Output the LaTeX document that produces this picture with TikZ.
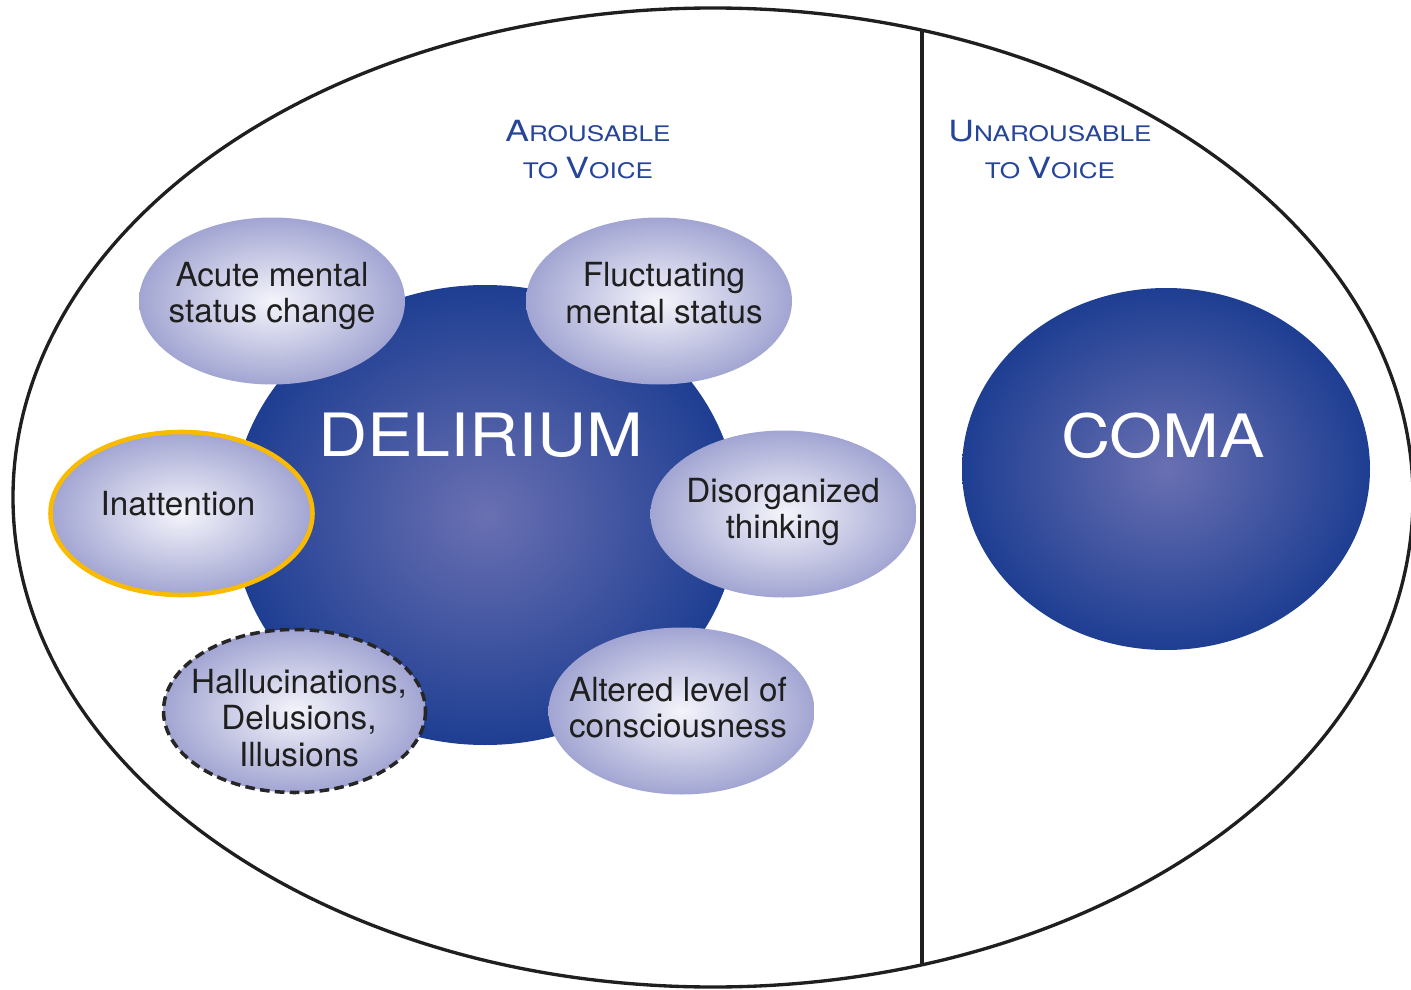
\documentclass[tikz,border=0pt]{standalone}
\usepackage{fontspec}
\setmainfont{TeX Gyre Heros}

\definecolor{deepblue}{RGB}{30,62,146}
\definecolor{midblue}{RGB}{106,112,178}
\definecolor{lilac}{RGB}{162,165,210}
\definecolor{lilaccore}{RGB}{244,244,251}
\definecolor{headblue}{RGB}{38,68,152}
\definecolor{ringgold}{RGB}{250,186,0}

\newcommand{\fakesc}[2]{{\fontsize{16.6}{21}\selectfont #1}{\fontsize{12.2}{21}\selectfont #2}}
\newcommand{\wideline}[2]{\scalebox{#1}[1]{#2}}

\tikzset{
  core/.style={shading=radial, inner color=midblue, outer color=deepblue},
  bubble/.style={shading=radial, inner color=lilaccore, outer color=lilac},
  bubbletext/.style={align=center, text=black!88, font=\fontsize{18.9}{20.8}\selectfont},
  heading/.style={align=center, text=headblue, inner sep=0pt, font=\fontsize{16.6}{21}\selectfont},
  bigword/.style={text=white, inner sep=0pt, anchor=base, font=\fontsize{34}{38}\selectfont},
}

\begin{document}
\begin{tikzpicture}[x=0.02cm, y=-0.02cm]
\useasboundingbox (0,0) rectangle (1411,990);
\pgfmathsetmacro{\cx}{713}
\pgfmathsetmacro{\cy}{497.5}
\pgfmathsetmacro{\rx}{700}
\pgfmathsetmacro{\ry}{489.5}
\pgfmathsetmacro{\cutx}{922}
\pgfmathsetmacro{\cuth}{\ry*sqrt(1-((\cutx-\cx)/\rx)^2)}

% outer ellipse and the divider
\draw[line width=1.9pt, black!88] (\cx,\cy) ellipse [x radius=\rx, y radius=\ry];
\coordinate (divtop) at (\cutx,\cy-\cuth);
\coordinate (divbot) at (\cutx,\cy+\cuth);
\draw[line width=2.2pt, black!88] (divtop) -- (divbot);

% the two big blue discs
\shade[core] (485,515) ellipse [x radius=253, y radius=230];
\shade[core] (1166,469) ellipse [x radius=204, y radius=181];

% features around delirium
\shade[bubble] (272,301) ellipse [x radius=133, y radius=83.5];
\shade[bubble] (659,301) ellipse [x radius=133, y radius=83.5];
\shade[bubble, draw=ringgold, line width=2.6pt] (181.5,513.5) ellipse [x radius=131, y radius=81.5];
\shade[bubble] (783.5,514) ellipse [x radius=133, y radius=83.5];
\shade[bubble, draw=black!85, line width=2pt, dash pattern=on 5.5pt off 3pt] (294.5,711) ellipse [x radius=131, y radius=81.5];
\shade[bubble] (681.5,711) ellipse [x radius=133, y radius=83.5];

\node[bubbletext] (acute) at (272,296) {Acute mental\\status change};
\node[bubbletext] (fluct) at (664,293) {Fluctuating\\mental status};
\node[bubbletext] (inatt) at (178,504) {Inattention};
\node[bubbletext] (disorg) at (783,512) {Disorganized\\thinking};
\node[bubbletext] (halluc) at (299,718) {Hallucinations,\\Delusions,\\Illusions};
\node[bubbletext] (altered) at (678,707.5) {Altered level of\\consciousness};

\node[bigword] (delirium) at (481,456) {\wideline{1.14}{DELIRIUM}};
\node[bigword] (coma) at (1163,457) {\wideline{1.14}{COMA}};

\node[heading] (arousable) at (588,150) {\wideline{1.22}{\fakesc{A}{ROUSABLE}}\\\wideline{1.22}{\fakesc{}{TO }\fakesc{V}{OICE}}};
\node[heading] (unarousable) at (1050,150) {\wideline{1.22}{\fakesc{U}{NAROUSABLE}}\\\wideline{1.22}{\fakesc{}{TO }\fakesc{V}{OICE}}};
\end{tikzpicture}
\end{document}
